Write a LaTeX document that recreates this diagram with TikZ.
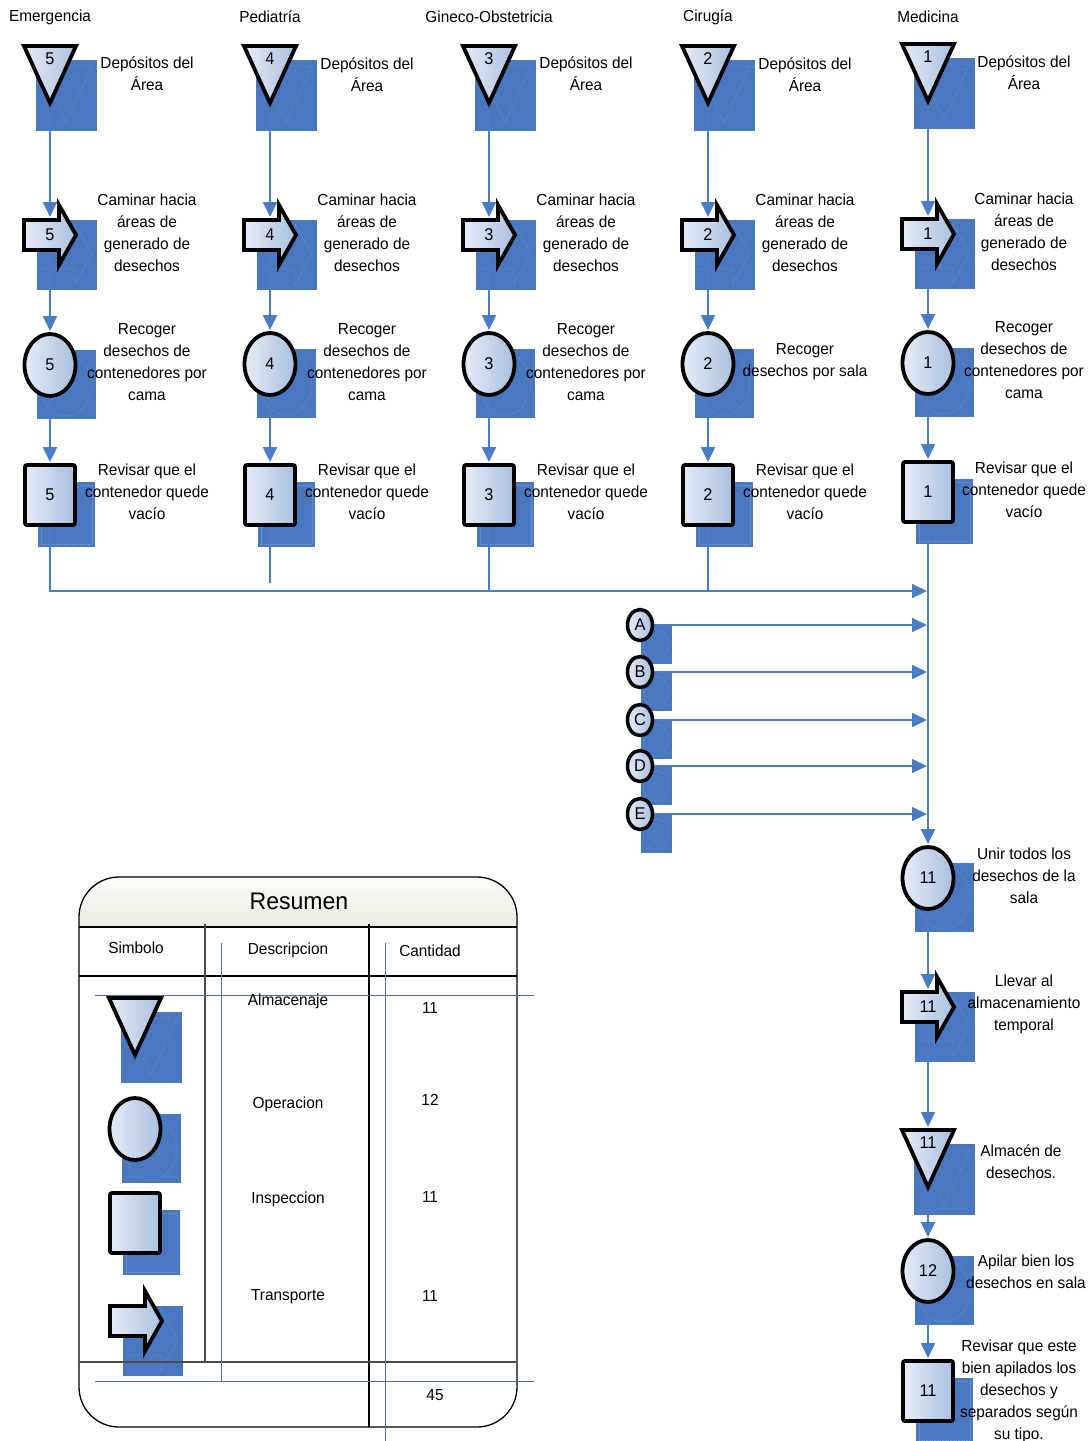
\documentclass[tikz,border=0pt]{standalone}
\usepackage{fontspec}
\setmainfont{Liberation Sans}[FakeStretch=0.96]
\usetikzlibrary{arrows.meta,shapes.geometric}

\pgfdeclarelayer{back}
\pgfdeclarelayer{mid}
\pgfsetlayers{back,mid,main}

\definecolor{shadowblue}{HTML}{4A78C0}
\definecolor{flowblue}{HTML}{4A7CC6}
\definecolor{shapelight}{HTML}{E6ECF7}
\definecolor{shapedark}{HTML}{AABFDF}
\definecolor{gridblue}{HTML}{4C6FAE}
\definecolor{headtop}{HTML}{FBFBF8}
\definecolor{headbot}{HTML}{EBEBE2}

\tikzset{
  symshade/.style={left color=shapelight, right color=shapedark, draw=black, line width=3.8pt},
  shadowbox/.style={fill=shadowblue},
  ghost/.style={draw=white, opacity=0.22, line width=0.6pt, densely dotted},
  flowline/.style={draw=flowblue, line width=2pt},
  flow/.style={flowline, -{Triangle[length=15pt,width=14pt]}, shorten >=1pt},
  lbl/.style={font=\fontsize{16}{22}\selectfont, align=center, inner sep=0pt},
  numtxt/.style={font=\fontsize{17}{18}\selectfont, inner sep=0pt},
  opnode/.style={ellipse, symshade, minimum width=51pt, minimum height=62pt, inner sep=0pt, font=\fontsize{17}{18}\selectfont},
  insnode/.style={rectangle, rounded corners=2pt, symshade, minimum width=50pt, minimum height=60pt, inner sep=0pt, font=\fontsize{17}{18}\selectfont},
  refnode/.style={ellipse, symshade, line width=3.5pt, minimum width=25pt, minimum height=31pt, inner sep=0pt, font=\fontsize{17}{18}\selectfont},
}

% storage symbol: name, x, top y, number
\newcommand\storestep[4]{%
  \begin{pgfonlayer}{back}
    \fill[shadowbox] (#2-14,#3+16) rectangle (#2+47,#3+87);
    \begin{scope}
      \clip (#2-14,#3+16) rectangle (#2+47,#3+87);
      \draw[ghost] (#2-10,#3+22) -- (#2+42,#3+22) -- (#2+16,#3+79) -- cycle;
    \end{scope}
  \end{pgfonlayer}
  \path[symshade, line join=miter] (#2-26,#3+2) -- (#2+26,#3+2) -- (#2,#3+59) -- cycle;
  \node[numtxt] (#1) at (#2,#3+15) {#4};
  \coordinate (#1-in) at (#2,#3);
  \coordinate (#1-out) at (#2,#3+59);
}
% transport symbol: name, x, y, number
\newcommand\movestep[4]{%
  \begin{pgfonlayer}{back}
    \fill[shadowbox] (#2-13,#3-15) rectangle (#2+47,#3+55);
    \begin{scope}
      \clip (#2-13,#3-15) rectangle (#2+47,#3+55);
      \draw[ghost] (#2-10,#3+4) -- (#2+25,#3+4) -- (#2+25,#3-11) -- (#2+42,#3+19) -- (#2+25,#3+49) -- (#2+25,#3+34) -- (#2-10,#3+34);
    \end{scope}
  \end{pgfonlayer}
  \path[symshade, line join=miter] (#2-26,#3-15) -- (#2+9,#3-15) -- (#2+9,#3-30) -- (#2+26,#3) -- (#2+9,#3+30) -- (#2+9,#3+15) -- (#2-26,#3+15) -- cycle;
  \node[numtxt] (#1) at (#2,#3) {#4};
  \coordinate (#1-in) at (#2,#3-17);
  \coordinate (#1-out) at (#2,#3+15);
}
% operation symbol: name, x, y, number
\newcommand\opstep[4]{%
  \begin{pgfonlayer}{back}
    \fill[shadowbox] (#2-13,#3-15) rectangle (#2+46,#3+54);
    \begin{scope}
      \clip (#2-13,#3-15) rectangle (#2+46,#3+54);
      \draw[ghost] (#2+16,#3+20) ellipse [x radius=25.5, y radius=31];
    \end{scope}
  \end{pgfonlayer}
  \node[opnode] (#1) at (#2,#3) {#4};
}
% inspection symbol: name, x, y, number
\newcommand\insstep[4]{%
  \begin{pgfonlayer}{back}
    \fill[shadowbox] (#2-12,#3-13) rectangle (#2+45,#3+52);
    \begin{scope}
      \clip (#2-12,#3-13) rectangle (#2+45,#3+52);
      \draw[ghost] (#2-9,#3-10) rectangle (#2+42,#3+49);
    \end{scope}
  \end{pgfonlayer}
  \node[insnode] (#1) at (#2,#3) {#4};
}
% connector reference: name, x, y, letter
\newcommand\refstep[4]{%
  \begin{pgfonlayer}{back}
    \fill[shadowbox] (#2+1,#3+1) rectangle (#2+32,#3+39);
    \begin{scope}
      \clip (#2+1,#3+1) rectangle (#2+32,#3+39);
      \draw[ghost] (#2+16,#3+20) ellipse [x radius=12.5, y radius=15.5];
    \end{scope}
  \end{pgfonlayer}
  \node[refnode] (#1) at (#2,#3) {#4};
}

\begin{document}
\begin{tikzpicture}[x=1pt,y=-1pt]
\useasboundingbox (0,0) rectangle (1091,1441);

% ---------- department headers ----------
\node[lbl] (hE) at (50,17) {Emergencia};
\node[lbl] (hP) at (270,17) {Pediatría};
\node[lbl] (hG) at (489,17) {Gineco-Obstetricia};
\node[lbl] (hC) at (708,17) {Cirugía};
\node[lbl] (hM) at (928,17) {Medicina};

% ---------- Emergencia ----------
\storestep{e1}{50}{44}{5}
\movestep{e2}{50}{235}{5}
\opstep{e3}{50}{365}{5}
\insstep{e4}{50}{495}{5}
\node[lbl] (e1t) at (147,74) {Depósitos del\\Área};
\node[lbl] (e2t) at (147,233) {Caminar hacia\\áreas de\\generado de\\desechos};
\node[lbl] (e3t) at (147,362) {Recoger\\desechos de\\contenedores por\\cama};
\node[lbl] (e4t) at (147,492) {Revisar que el\\contenedor quede\\vacío};

% ---------- Pediatría ----------
\storestep{p1}{270}{44}{4}
\movestep{p2}{270}{235}{4}
\opstep{p3}{270}{364}{4}
\insstep{p4}{270}{495}{4}
\node[lbl] (p1t) at (367,75) {Depósitos del\\Área};
\node[lbl] (p2t) at (367,233) {Caminar hacia\\áreas de\\generado de\\desechos};
\node[lbl] (p3t) at (367,362) {Recoger\\desechos de\\contenedores por\\cama};
\node[lbl] (p4t) at (367,492) {Revisar que el\\contenedor quede\\vacío};

% ---------- Gineco-Obstetricia ----------
\storestep{g1}{489}{44}{3}
\movestep{g2}{489}{235}{3}
\opstep{g3}{489}{364}{3}
\insstep{g4}{489}{495}{3}
\node[lbl] (g1t) at (586,74) {Depósitos del\\Área};
\node[lbl] (g2t) at (586,233) {Caminar hacia\\áreas de\\generado de\\desechos};
\node[lbl] (g3t) at (586,362) {Recoger\\desechos de\\contenedores por\\cama};
\node[lbl] (g4t) at (586,492) {Revisar que el\\contenedor quede\\vacío};

% ---------- Cirugía ----------
\storestep{c1}{708}{44}{2}
\movestep{c2}{708}{235}{2}
\opstep{c3}{708}{364}{2}
\insstep{c4}{708}{495}{2}
\node[lbl] (c1t) at (805,75) {Depósitos del\\Área};
\node[lbl] (c2t) at (805,233) {Caminar hacia\\áreas de\\generado de\\desechos};
\node[lbl] (c3t) at (805,362) {Recoger\\desechos por sala};
\node[lbl] (c4t) at (805,492) {Revisar que el\\contenedor quede\\vacío};

% ---------- Medicina ----------
\storestep{m1}{928}{42}{1}
\movestep{m2}{928}{234}{1}
\opstep{m3}{928}{363}{1}
\insstep{m4}{928}{492}{1}
\node[lbl] (m1t) at (1024,73) {Depósitos del\\Área};
\node[lbl] (m2t) at (1024,232) {Caminar hacia\\áreas de\\generado de\\desechos};
\node[lbl] (m3t) at (1024,360) {Recoger\\desechos de\\contenedores por\\cama};
\node[lbl] (m4t) at (1024,490) {Revisar que el\\contenedor quede\\vacío};

% ---------- connector references ----------
\refstep{ra}{640}{625}{A}
\refstep{rb}{640}{672}{B}
\refstep{rc}{640}{720}{C}
\refstep{rd}{640}{766}{D}
\refstep{re}{640}{814}{E}

% ---------- common sequence ----------
\opstep{u1}{928}{878}{11}
\movestep{u2}{928}{1007}{11}
\storestep{u3}{928}{1128}{11}
\opstep{u4}{928}{1271}{12}
\insstep{u5}{928}{1391}{11}
\node[lbl] (u1t) at (1024,876) {Unir todos los\\desechos de la\\sala};
\node[lbl] (u2t) at (1024,1004) {Llevar al\\almacenamiento\\temporal};
\node[lbl] (u3t) at (1021,1162) {Almacén de\\desechos.};
\node[lbl] (u4t) at (1026,1272) {Apilar bien los\\desechos en sala};
\node[lbl] (u5t) at (1019,1391) {Revisar que este\\bien apilados los\\desechos y\\separados según\\su tipo.};

% ---------- connectors ----------
\coordinate (bus) at (928,591);
\coordinate (p4end) at (270,583);
\begin{pgfonlayer}{mid}
  \foreach \d in {e,p,g,c,m}{
    \draw[flow] (\d1-out) -- (\d2-in);
    \draw[flow] (\d2-out) -- (\d3.north);
    \draw[flow] (\d3.south) -- (\d4.north);
  }
  \draw[flow] (e4.south) |- (bus);
  \draw[flowline] (p4.south) -- (p4end);
  \draw[flowline] (g4.south) -- (g4.south |- bus);
  \draw[flowline] (c4.south) -- (c4.south |- bus);
  \draw[flow] (m4.south) -- (u1.north);
  \foreach \r in {ra,rb,rc,rd,re}{
    \draw[flow] (\r.east) -- (\r.east -| bus);
  }
  \draw[flow] (u1.south) -- (u2-in);
  \draw[flow] (u2-out) -- (u3-in);
  \draw[flow] (u3-out) -- (u4.north);
  \draw[flow] (u4.south) -- (u5.north);
\end{pgfonlayer}

% ---------- summary table ----------
\begin{scope}
  \clip[rounded corners=40pt] (79,877) rectangle (517,1427);
  \shade[top color=headtop, bottom color=headbot] (79,877) rectangle (517,927);
\end{scope}
\draw[line width=1.3pt, rounded corners=40pt] (79,877) rectangle (517,1427);
\draw[line width=1.6pt] (79,927) -- (517,927);
\draw[line width=1.2pt] (79,976) -- (517,976);
\draw[line width=1.4pt, black!70] (205,924) -- (205,1362);
\draw[line width=1.2pt] (369,924) -- (369,1427);
\draw[line width=1.6pt, black!70] (79,1362) -- (517,1362);
\draw[gridblue, line width=0.9pt] (95,995) -- (534,995);
\draw[gridblue, line width=0.9pt] (95,1381) -- (534,1381);
\draw[gridblue, line width=0.9pt] (221,943) -- (221,1381);
\draw[gridblue, line width=0.9pt] (385,943) -- (385,1441);

\node[font=\fontsize{24}{26}\selectfont, inner sep=0pt] (ttl) at (299,901) {Resumen};
\node[lbl] (hs) at (136,948) {Simbolo};
\node[lbl] (hd) at (288,950) {Descripcion};
\node[lbl] (hq) at (430,951) {Cantidad};

\storestep{l1}{135}{996}{}
\opstep{l2}{135}{1129}{}
\insstep{l3}{135}{1223}{}
\movestep{l4}{136}{1321}{}

\node[lbl] (d1) at (288,1001) {Almacenaje};
\node[lbl] (q1) at (430,1008) {11};
\node[lbl] (d2) at (288,1104) {Operacion};
\node[lbl] (q2) at (430,1100) {12};
\node[lbl] (d3) at (288,1199) {Inspeccion};
\node[lbl] (q3) at (430,1197) {11};
\node[lbl] (d4) at (288,1297) {Transporte};
\node[lbl] (q4) at (430,1296) {11};
\node[lbl] (qt) at (435,1395) {45};
\end{tikzpicture}
\end{document}
